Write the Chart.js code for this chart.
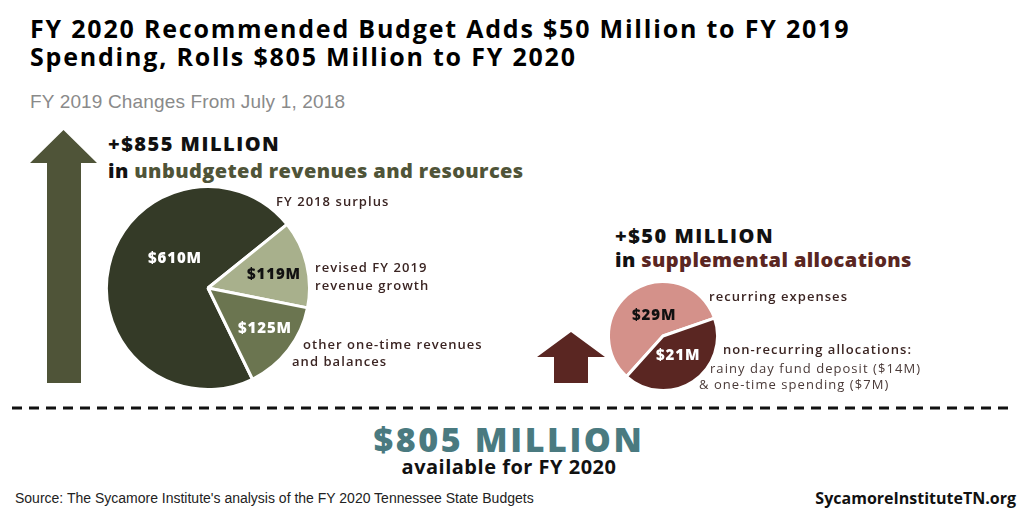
<!DOCTYPE html>
<html>
<head>
<meta charset="utf-8">
<script src="https://cdn.jsdelivr.net/npm/chart.js@4.4.0/dist/chart.umd.min.js"></script>
<style>
  html, body { margin: 0; padding: 0; background: #fff; }
  #page { position: relative; width: 1024px; height: 512px; overflow: hidden; font-family: "Open Sans", Lato, sans-serif; }
  .t { position: absolute; white-space: nowrap; line-height: 1; }
  .title { font-weight: 700; font-size: 25px; line-height: 28px; color: #000; left: 30px; top: 14.2px; letter-spacing: 1.8px; }
  .sub { left: 30px; top: 92px; font-size: 19px; color: #8a8a8a; letter-spacing: 0.15px; font-family: "Liberation Sans", Arial, sans-serif; }
  .head { font-weight: 800; font-size: 20px; color: #111; letter-spacing: 0.4px; }
  .big { letter-spacing: 1.5px; }
  .lbl { font-weight: 600; font-size: 13px; color: #3b2523; letter-spacing: 1.05px; }
  .lite { font-weight: 400; font-size: 13px; color: #4a3a38; letter-spacing: 1.05px; }
  .val { font-weight: 800; font-size: 15px; letter-spacing: 0.9px; }
  canvas { position: absolute; }
  svg { position: absolute; left: 0; top: 0; }
</style>
</head>
<body>
<div id="page">
  <svg width="1024" height="512">
    <polygon points="30,163 63.5,130 97,163 81,163 81,383 47,383 47,163" fill="#4f5438"/>
    <polygon points="537,357 571,332 605,357 588,357 588,383 554,383 554,357" fill="#5a2622"/>
    <line x1="12" y1="408" x2="1010" y2="408" stroke="#111" stroke-width="3" stroke-dasharray="10,7"/>
  </svg>

  <div class="t title">FY 2020 Recommended Budget Adds $50 Million to FY 2019<br>Spending, Rolls $805 Million to FY 2020</div>
  <div class="t sub">FY 2019 Changes From July 1, 2018</div>

  <div class="t head" style="left:108px; top:130px; line-height:27px"><span class="big">+$855 MILLION</span><br>in <span style="color:#4f5438">unbudgeted revenues and resources</span></div>

  <canvas id="pieLeft" width="206" height="206" style="left:105px; top:185px"></canvas>
  <div class="t val" style="left:148px; top:249.5px; color:#fff">$610M</div>
  <div class="t val" style="left:247px; top:265.5px; color:#111">$119M</div>
  <div class="t val" style="left:238px; top:319.5px; color:#fff">$125M</div>

  <div class="t lbl" style="left:276px; top:194.7px">FY 2018 surplus</div>
  <div class="t lbl" style="left:315px; top:257.7px; line-height:18px">revised FY 2019<br>revenue growth</div>
  <div class="t lbl" style="left:292px; top:335.7px; line-height:17px"><span style="margin-left:11px">other one-time revenues</span><br>and balances</div>

  <div class="t head" style="left:615px; top:224px; line-height:24px"><span class="big">+$50 MILLION</span><br>in <span style="color:#5a2622">supplemental allocations</span></div>

  <canvas id="pieRight" width="112" height="112" style="left:607px; top:280px"></canvas>
  <div class="t val" style="left:632px; top:307.4px; color:#111">$29M</div>
  <div class="t val" style="left:656px; top:347.4px; color:#fff">$21M</div>

  <div class="t lbl" style="left:709px; top:290.4px">recurring expenses</div>
  <div class="t lbl" style="left:723px; top:342.5px">non-recurring allocations:</div>
  <div class="t lite" style="left:699px; top:359.7px; line-height:16px"><span style="margin-left:11px">rainy day fund deposit ($14M)</span><br>&amp; one-time spending ($7M)</div>

  <div class="t" style="left:0; width:1018px; text-align:center; top:428.1px; font-weight:700; font-size:20px; line-height:22px; color:#111; letter-spacing:0.5px"><span style="font-size:34px; line-height:22px; font-weight:800; color:#4a7a80; letter-spacing:2.6px">$805 MILLION</span><br>available for FY 2020</div>

  <div class="t" style="left:15px; top:491.2px; font-family:'Liberation Sans', Arial, sans-serif; font-size:14px; color:#222">Source: The Sycamore Institute's analysis of the FY 2020 Tennessee State Budgets</div>
  <div class="t" style="right:8px; top:490.2px; font-weight:700; font-size:16px; color:#111">SycamoreInstituteTN.org</div>
</div>

<script>
// values ($ millions)
const resourceLabels = ['FY 2018 surplus', 'revised FY 2019 revenue growth', 'other one-time revenues and balances'];
const resourceValues = [610, 119, 125];
const resourceColors = ['#343a27', '#a8b08c', '#6b7550'];

const allocationLabels = ['recurring expenses', 'non-recurring allocations'];
const allocationValues = [29, 21];
const allocationColors = ['#d4918a', '#5a2622'];

function makePie(id, labels, values, colors, rotation, border) {
    const ctx = document.getElementById(id);
    return new Chart(ctx, {
        type: 'pie',
        data: {
            labels: labels,
            datasets: [{
                data: values,
                backgroundColor: colors,
                borderColor: '#fff',
                borderWidth: border
            }]
        },
        options: {
            responsive: false,
            animation: false,
            rotation: rotation,
            layout: { padding: 0 },
            plugins: {
                legend: { display: false },
                tooltip: { enabled: false }
            }
        }
    });
}

makePie('pieLeft', resourceLabels, resourceValues, resourceColors, 154, 3);
makePie('pieRight', allocationLabels, allocationValues, allocationColors, 222, 3);
</script>
</body>
</html>
